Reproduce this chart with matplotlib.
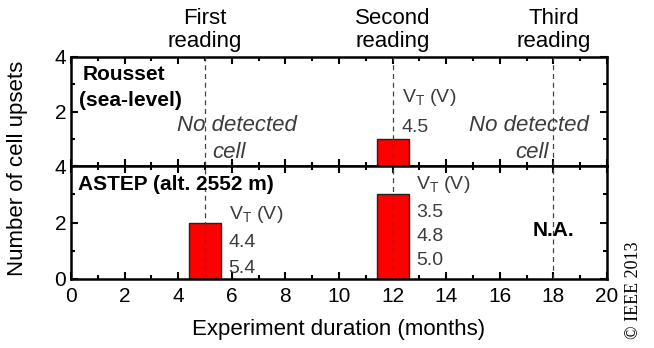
import matplotlib.pyplot as plt
from matplotlib.ticker import MultipleLocator

plt.rcParams["font.family"] = ["Liberation Sans", "DejaVu Sans"]

# data
reading_months = [5, 12, 18]
reading_labels = ["First\nreading", "Second\nreading", "Third\nreading"]

rousset_months = [12]
rousset_counts = [1]

astep_months = [5, 12]
astep_counts = [2, 3]

rousset_vt = ["4.5"]
astep_vt = [["4.4", "5.4"], ["3.5", "4.8", "5.0"]]

bar_width = 1.2
W, H = 654, 348

fig = plt.figure(figsize=(W / 100, H / 100), dpi=100)
left, right = 71, 607
ax_top = fig.add_axes([left / W, 1 - 166 / H, (right - left) / W, (166 - 57) / H])
ax_bot = fig.add_axes([left / W, 1 - 279 / H, (right - left) / W, (279 - 166) / H])

for ax in (ax_top, ax_bot):
    ax.set_xlim(0, 20)
    ax.set_ylim(0, 4)
    ax.xaxis.set_major_locator(MultipleLocator(2))
    ax.xaxis.set_minor_locator(MultipleLocator(1))
    ax.yaxis.set_major_locator(MultipleLocator(2))
    ax.yaxis.set_minor_locator(MultipleLocator(1))
    ax.tick_params(which="both", direction="in", top=True, right=True,
                   width=1.5, labelsize=15)
    ax.tick_params(which="major", length=5)
    ax.tick_params(which="minor", length=3)
    ax.tick_params(axis="x", pad=6)
    for s in ax.spines.values():
        s.set_linewidth(1.8)
    for m in reading_months:
        ax.axvline(m, color="#444444", ls=(0, (4, 3)), lw=0.9, zorder=3)

ax_top.tick_params(labelbottom=False)
ax_top.set_yticks([2, 4])
ax_top.set_yticks([1, 3], minor=True)

ax_top.bar(rousset_months, rousset_counts, width=bar_width, color="#ff0000",
           edgecolor="#222222", lw=1, zorder=2)
ax_bot.bar(astep_months, astep_counts, width=bar_width, color="#ff0000",
           edgecolor="#222222", lw=1, zorder=2)

for m, lab in zip(reading_months, reading_labels):
    ax_top.text(m, 4.2, lab, ha="center", va="bottom", fontsize=16,
                linespacing=1.1)

ax_top.text(0.45, 3.34, "Rousset", ha="left", va="center",
            fontsize=15, fontweight="bold")
ax_top.text(0.3, 2.4, "(sea-level)", ha="left", va="center",
            fontsize=15, fontweight="bold")
ax_bot.text(0.25, 3.33, "ASTEP (alt. 2552 m)", ha="left", va="center",
            fontsize=15, fontweight="bold")

grey = "#3c3c3c"
for cx, cy in ((6.2, 5.9), (17.1, 17.2)):
    ax_top.text(cx, 1.5, "No detected", ha="center", va="center",
                fontsize=16, style="italic", color=grey)
    ax_top.text(cy, 0.5, "cell", ha="center", va="center",
                fontsize=16, style="italic", color=grey)

ax_top.text(12.35, 2.5, r"V$_\mathregular{T}$ (V)", fontsize=14, color=grey,
            va="center")
ax_top.text(12.35, 1.43, rousset_vt[0], fontsize=14, color=grey, va="center")

for m, vals in zip(astep_months, astep_vt):
    x0 = m + 0.88
    if len(vals) == 3:
        y0, step = 3.33, 0.85
    else:
        y0, step = 2.3, 0.9
    ax_bot.text(x0, y0, r"V$_\mathregular{T}$ (V)", fontsize=14, color=grey,
                va="center")
    for i, v in enumerate(vals):
        ax_bot.text(x0, y0 - 0.12 - step * (i + 1), v, fontsize=14,
                    color=grey, va="center")

ax_bot.text(18.0, 1.73, "N.A.", ha="center", va="center", fontsize=15,
            fontweight="bold")

ax_bot.set_xlabel("Experiment duration (months)", fontsize=16, labelpad=9)
fig.text(18 / W, 1 - 168 / H, "Number of cell upsets", rotation=90,
         ha="center", va="center", fontsize=16)
fig.text(634 / W, 1 - 290 / H, "\u00a9 IEEE 2013", rotation=90, ha="center",
         va="center", fontsize=13, family=["Liberation Serif", "DejaVu Serif"])

fig.savefig("out.png", dpi=100)
